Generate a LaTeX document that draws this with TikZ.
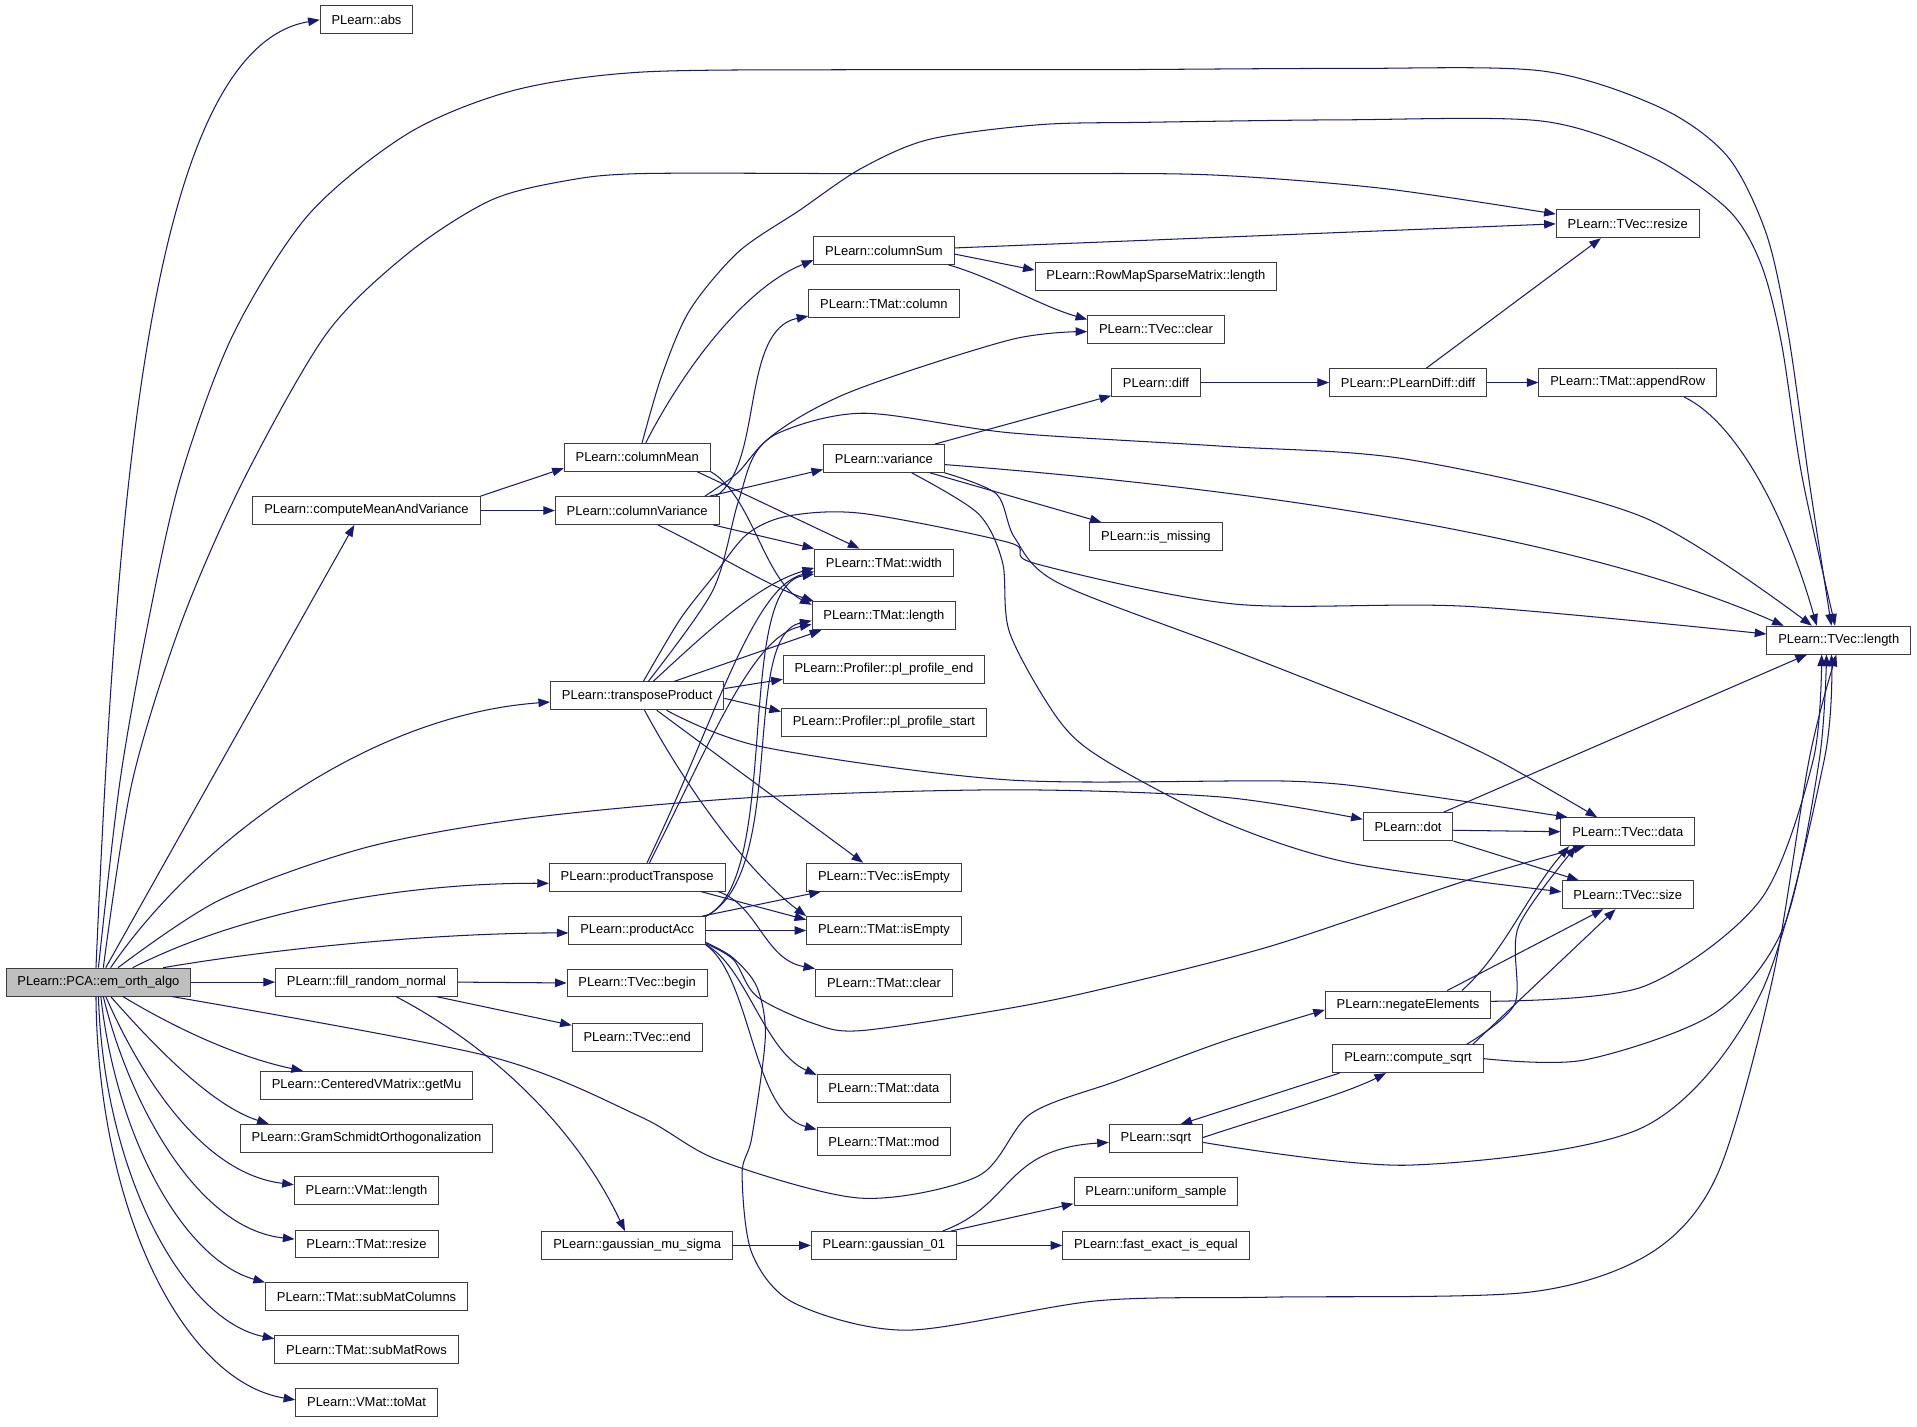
\documentclass[tikz,border=0pt]{standalone}
\usepackage{fontspec}
\setmainfont{Liberation Sans}
\usetikzlibrary{arrows.meta}
\definecolor{edgecol}{RGB}{25,25,112}
\definecolor{pcafill}{RGB}{191,191,191}
\definecolor{boxline}{RGB}{60,60,60}
\begin{document}
\begin{tikzpicture}[x=1pt,y=-1pt,
  box/.style={draw=boxline, line width=0.8pt, fill=white, inner xsep=9.3pt, inner ysep=0pt,
    minimum height=22.8pt, font=\fontsize{10.6}{12}\selectfont},
  edge/.style={draw=edgecol, line width=0.85pt, -{Triangle[length=9.5pt,width=7pt]}}]
\fill[white] (0,0) rectangle (1568,1167);
\useasboundingbox (0,0) rectangle (1568,1167);

% rank 0
\node[box,fill=pcafill] (pca) at (80.5,803.3) {PLearn::PCA::em\_orth\_algo};
% rank 1
\node[box] (abs) at (299.8,16.2) {PLearn::abs};
\node[box] (cmv) at (299.8,417.6) {PLearn::computeMeanAndVariance};
\node[box] (frn) at (299.8,803.3) {PLearn::fill\_random\_normal};
\node[box] (getmu) at (299.8,887.7) {PLearn::CenteredVMatrix::getMu};
\node[box] (gram) at (299.8,931) {PLearn::GramSchmidtOrthogonalization};
\node[box] (vmlen) at (299.8,974) {PLearn::VMat::length};
\node[box] (tmresize) at (299.8,1017.5) {PLearn::TMat::resize};
\node[box] (submc) at (299.8,1060.7) {PLearn::TMat::subMatColumns};
\node[box] (submr) at (299.8,1103.8) {PLearn::TMat::subMatRows};
\node[box] (tomat) at (299.8,1147) {PLearn::VMat::toMat};
% rank 2
\node[box] (cmean) at (521.2,374) {PLearn::columnMean};
\node[box] (cvar) at (521.2,417.6) {PLearn::columnVariance};
\node[box] (tprod) at (521.2,569.2) {PLearn::transposeProduct};
\node[box] (ptrans) at (521.2,717.5) {PLearn::productTranspose};
\node[box] (pacc) at (521.2,761.1) {PLearn::productAcc};
\node[box] (tvbegin) at (521.2,804) {PLearn::TVec::begin};
\node[box] (tvend) at (521.2,848.4) {PLearn::TVec::end};
\node[box] (gms) at (521.2,1018.7) {PLearn::gaussian\_mu\_sigma};
% rank 3
\node[box] (csum) at (723,204.8) {PLearn::columnSum};
\node[box] (tmcol) at (723,248.5) {PLearn::TMat::column};
\node[box] (var) at (723,375) {PLearn::variance};
\node[box] (tmwidth) at (723,460.5) {PLearn::TMat::width};
\node[box] (tmlen) at (723,503.7) {PLearn::TMat::length};
\node[box] (ppend) at (723,547.6) {PLearn::Profiler::pl\_profile\_end};
\node[box] (ppstart) at (723,591) {PLearn::Profiler::pl\_profile\_start};
\node[box] (tvisempty) at (723,717.5) {PLearn::TVec::isEmpty};
\node[box] (tmisempty) at (723,761.1) {PLearn::TMat::isEmpty};
\node[box] (tmclear) at (723,804) {PLearn::TMat::clear};
\node[box] (tmdata) at (723,890) {PLearn::TMat::data};
\node[box] (tmmod) at (723,933.6) {PLearn::TMat::mod};
\node[box] (g01) at (723,1018.7) {PLearn::gaussian\_01};
% rank 4
\node[box] (rowmap) at (945.5,225.9) {PLearn::RowMapSparseMatrix::length};
\node[box] (tvclear) at (945.5,269.3) {PLearn::TVec::clear};
\node[box] (diff) at (945.5,312.9) {PLearn::diff};
\node[box] (ismissing) at (945.5,439) {PLearn::is\_missing};
\node[box] (sqrt) at (945.5,931.4) {PLearn::sqrt};
\node[box] (unif) at (945.5,974.8) {PLearn::uniform\_sample};
\node[box] (fastexact) at (945.5,1018.7) {PLearn::fast\_exact\_is\_equal};
% rank 5
\node[box] (pldiff) at (1151.7,312.9) {PLearn::PLearnDiff::diff};
\node[box] (dot) at (1151.7,676.1) {PLearn::dot};
\node[box] (neg) at (1151.7,822) {PLearn::negateElements};
\node[box] (csqrt) at (1151.7,865.9) {PLearn::compute\_sqrt};
% rank 6
\node[box] (tvresize) at (1331.4,183.1) {PLearn::TVec::resize};
\node[box] (appendrow) at (1331.4,312.9) {PLearn::TMat::appendRow};
\node[box] (tvdata) at (1331.4,680.3) {PLearn::TVec::data};
\node[box] (tvsize) at (1331.4,731.9) {PLearn::TVec::size};
% rank 7
\node[box] (tvlen) at (1504,523.6) {PLearn::TVec::length};

% ---- edges from PCA::em_orth_algo
\draw[edge] ([xshift=-2pt]pca.north) .. controls (95,420) and (120,40) .. (abs.west);
\draw[edge] plot[smooth] coordinates {(pca.north) (98,640) (120,515) (147,393) (190,275) (252,176) (334,109) (420,74) (524,59) (700,57) (900,57) (1100,56) (1261,58) (1358,88) (1413,128) (1445,192) (1463,275) (1480,395) ([xshift=-6pt]tvlen.north)};
\draw[edge] plot[smooth] coordinates {([xshift=4pt]pca.north) (108,640) (148,510) (199,393) (267,273) (334,207) (401,164) (462,148) (524,142) (700,142) (850,142) (989,143) (1130,154) ([yshift=8pt]tvresize.west)};
\draw[edge] ([xshift=6pt]pca.north) -- ([xshift=-10pt]cmv.south);
\draw[edge] ([xshift=10pt]pca.north) .. controls (160,690) and (300,585) .. ([yshift=-5pt]tprod.west);
\draw[edge] plot[smooth] coordinates {([xshift=16pt]pca.north) (180,736) (300,693) (433,669) (620,652) (826,646) (1000,652) ([yshift=6pt]dot.west)};
\draw[edge] ([xshift=28pt]pca.north) .. controls (200,745) and (330,722) .. ([yshift=-5pt]ptrans.west);
\draw[edge] ([xshift=53pt]pca.north) .. controls (230,775) and (360,763) .. ([yshift=-2pt]pacc.west);
\draw[edge] (pca.east) -- (frn.west);
\draw[edge] plot[smooth] coordinates {([xshift=60pt]pca.south) (400,864) (523,913) (588,949) (704,980) (800,962) (843,911) (914,884) (1000,852) ([yshift=-4pt]neg.west)};
\draw[edge] ([xshift=20pt]pca.south) .. controls (150,845) and (200,866) .. ([xshift=-52pt]getmu.north);
\draw[edge] ([xshift=10pt]pca.south) .. controls (130,860) and (175,905) .. ([xshift=-80pt]gram.north);
\draw[edge] ([xshift=6pt]pca.south) .. controls (115,880) and (165,960) .. ([yshift=5pt]vmlen.west);
\draw[edge] ([xshift=4pt]pca.south) .. controls (105,900) and (160,1005) .. ([yshift=4pt]tmresize.west);
\draw[edge] ([xshift=2pt]pca.south) .. controls (95,930) and (150,1030) .. (submc.north west);
\draw[edge] (pca.south) .. controls (85,960) and (150,1080) .. ([yshift=-3pt]submr.north west);
\draw[edge] ([xshift=-2pt]pca.south) .. controls (80,990) and (150,1130) .. ([yshift=2pt]tomat.west);

% ---- computeMeanAndVariance
\draw[edge] (cmv.north east) -- ([yshift=-9pt]cmean.west);
\draw[edge] (cmv.east) -- (cvar.west);

% ---- columnMean
\draw[edge] ([xshift=7pt]cmean.north) .. controls (560,300) and (610,235) .. ([yshift=-8pt]csum.west);
\draw[edge] plot[smooth] coordinates {([xshift=4pt]cmean.north) (541,308) (564,254) (604,206) (654,172) (704,138) (760,114) (850,102) (940,100) (1100,98) (1261,99) (1350,128) (1413,171) (1440,215) (1457,280) (1474,390) ([xshift=-3pt]tvlen.north)};
\draw[edge] ([xshift=49pt]cmean.south) -- ([xshift=-20pt]tmwidth.north);
\draw[edge] (cmean.south east) .. controls (615,405) and (625,475) .. ([yshift=9pt]tmlen.west);

% ---- columnVariance
\draw[edge] ([xshift=-8pt]cvar.north east) -- ([yshift=-9pt]var.west);
\draw[edge] ([xshift=-3pt]cvar.north east) .. controls (625,380) and (605,270) .. ([yshift=-10pt]tmcol.west);
\draw[edge] plot[smooth] coordinates {([xshift=-12pt]cvar.north east) (603,387) (635,355) (706,338) (826,354) (1000,365) (1153,376) (1344,423) ([xshift=-22pt]tvlen.north)};
\draw[edge] ([xshift=-5pt]cvar.south east) -- (tmwidth.north west);
\draw[edge] ([xshift=17pt]cvar.south) .. controls (590,455) and (630,480) .. ([xshift=2pt]tmlen.north west);

% ---- columnSum
\draw[edge] ([yshift=2pt]csum.east) -- (tvresize.west);
\draw[edge] ([yshift=-3pt]csum.east) -- ([yshift=5pt]rowmap.west);
\draw[edge] ([xshift=-5pt]csum.south east) .. controls (815,228) and (850,250) .. ([yshift=8pt]tvclear.west);

% ---- variance
\draw[edge] ([xshift=-8pt]var.north east) -- ([yshift=1pt]diff.south west);
\draw[edge] ([yshift=-5pt]var.east) .. controls (900,390) and (1250,420) .. ([xshift=-45pt]tvlen.north);
\draw[edge] ([xshift=-12pt]var.south east) -- ([xshift=10pt]ismissing.north west);
\draw[edge] plot[smooth] coordinates {(var.south east) (815,404) (830,440) (866,477) (1009,532) (1153,589) (1225,622) ([xshift=-25pt]tvdata.north)};
\draw[edge] plot[smooth] coordinates {([xshift=-27pt]var.south east) (800,420) (820,460) (826,518) (866,589) (904,622) (1000,672) (1105,706) ([yshift=2.5pt]tvsize.west)};

% ---- diff chain
\draw[edge] (diff.east) -- (pldiff.west);
\draw[edge] ([xshift=15pt]pldiff.north) -- ([xshift=-22pt]tvresize.south);
\draw[edge] (pldiff.east) -- (appendrow.west);
\draw[edge] ([xshift=46pt]appendrow.south) .. controls (1420,345) and (1460,420) .. ([xshift=-18pt]tvlen.north);

% ---- transposeProduct
\draw[edge] ([xshift=13pt]tprod.north) .. controls (580,515) and (620,478) .. ([yshift=-4pt]tmwidth.west);
\draw[edge] ([xshift=30pt]tprod.north) -- ([xshift=8pt]tmlen.south west);
\draw[edge] ([yshift=6pt]tprod.east) -- ([yshift=-8pt]ppend.west);
\draw[edge] ([yshift=-2pt]tprod.east) -- ([yshift=9pt]ppstart.west);
\draw[edge] ([xshift=16pt]tprod.south) -- ([xshift=-17pt]tvisempty.north);
\draw[edge] ([xshift=6pt]tprod.south) .. controls (570,660) and (620,720) .. (tmisempty.north west);
\draw[edge] plot[smooth] coordinates {([xshift=24pt]tprod.south) (624,611) (826,638) (1057,639) (1153,649) ([xshift=6pt]tvdata.north west)};
\draw[edge] plot[smooth] coordinates {([xshift=9pt]tprod.north) (583,483) (604,410) (624,363) (692,322) (826,278) ([yshift=-2pt]tvclear.west)};
\draw[edge] plot[smooth] coordinates {([xshift=5pt]tprod.north) (556,507) (583,472) (611,437) (645,422) (706,420) (826,444) (847,461) (1009,494) (1201,496) ([yshift=5pt]tvlen.west)};

% ---- productTranspose
\draw[edge] ([xshift=8pt]ptrans.north) .. controls (585,590) and (615,480) .. ([yshift=-7pt]tmwidth.west);
\draw[edge] ([xshift=10pt]ptrans.north) .. controls (580,610) and (615,520) .. ([yshift=-7pt]tmlen.west);
\draw[edge] ([xshift=-20pt]ptrans.south east) -- ([yshift=-3pt]tmisempty.north west);
\draw[edge] ([xshift=-6pt]ptrans.south east) .. controls (620,740) and (625,785) .. (tmclear.north west);

% ---- productAcc
\draw[edge] ([xshift=-3pt]pacc.north east) -- ([xshift=12pt]tvisempty.south west);
\draw[edge] (pacc.east) -- (tmisempty.west);
\draw[edge] (pacc.north east) .. controls (640,720) and (600,480) .. ([yshift=-9pt]tmwidth.west);
\draw[edge] (pacc.north east) .. controls (645,715) and (605,520) .. ([yshift=-4pt]tmlen.west);
\draw[edge] (pacc.south east) .. controls (610,790) and (625,860) .. ([yshift=-1pt]tmdata.north west);
\draw[edge] (pacc.south east) .. controls (615,800) and (615,910) .. ([yshift=-2pt]tmmod.north west);
\draw[edge] plot[smooth] coordinates {([yshift=1pt]pacc.south east) (600,785) (619,815) (665,837) (704,843) (818,826) (897,810) (1039,774) (1200,720) ([xshift=-35pt]tvdata.south)};
\draw[edge] plot[smooth] coordinates {([yshift=2pt]pacc.south east) (599,783) (619,807) (626,848) (615,930) (607,960) (615,1025) (650,1066) (742,1088) (897,1064) (1039,1061) (1250,1057) (1350,1025) (1405,960) (1450,800) (1480,620) ([xshift=-2pt]tvlen.south)};

% ---- fill_random_normal
\draw[edge] (frn.east) -- (tvbegin.west);
\draw[edge] ([xshift=-18pt]frn.south east) -- ([yshift=-2pt]tvend.north west);
\draw[edge] ([xshift=24pt]frn.south) .. controls (400,855) and (470,920) .. ([xshift=-10pt]gms.north);
\draw[edge] (gms.east) -- (g01.west);

% ---- gaussian_01
\draw[edge] ([xshift=48pt]g01.north) .. controls (830,985) and (820,940) .. ([yshift=-3pt]sqrt.west);
\draw[edge] ([xshift=55pt]g01.north) -- ([yshift=2pt]unif.south west);
\draw[edge] (g01.east) -- (fastexact.west);

% ---- dot
\draw[edge] ([xshift=-8pt]dot.north east) -- ([xshift=-26pt]tvlen.south);
\draw[edge] ([yshift=-3pt]dot.east) -- (tvdata.west);
\draw[edge] (dot.south east) -- ([xshift=-40pt]tvsize.north);

% ---- negateElements
\draw[edge] ([xshift=44pt]neg.north) .. controls (1230,780) and (1250,730) .. ([xshift=-48pt]tvdata.south);
\draw[edge] ([xshift=32pt]neg.north) -- ([xshift=-20pt]tvsize.south);
\draw[edge] plot[smooth] coordinates {([yshift=3pt]neg.east) (1344,807) (1440,736) (1483,622) ([xshift=-14pt]tvlen.south)};

% ---- compute_sqrt and sqrt
\draw[edge] ([xshift=-56pt]csqrt.south) -- ([xshift=20pt]sqrt.north);
\draw[edge] ([yshift=1pt]sqrt.east) .. controls (1030,915) and (1100,895) .. ([xshift=-18pt]csqrt.south);
\draw[edge] plot[smooth] coordinates {([xshift=48pt]csqrt.north) (1239,821) (1242,758) ([xshift=-42pt]tvdata.south)};
\draw[edge] ([xshift=53pt]csqrt.north) -- ([xshift=-10pt]tvsize.south);
\draw[edge] plot[smooth] coordinates {(csqrt.east) (1296,867) (1402,829) (1459,758) (1488,622) ([xshift=-10pt]tvlen.south)};
\draw[edge] plot[smooth] coordinates {([yshift=-3pt]sqrt.east) (1153,953) (1344,922) (1440,813) (1492,622) ([xshift=-6pt]tvlen.south)};
\end{tikzpicture}
\end{document}
